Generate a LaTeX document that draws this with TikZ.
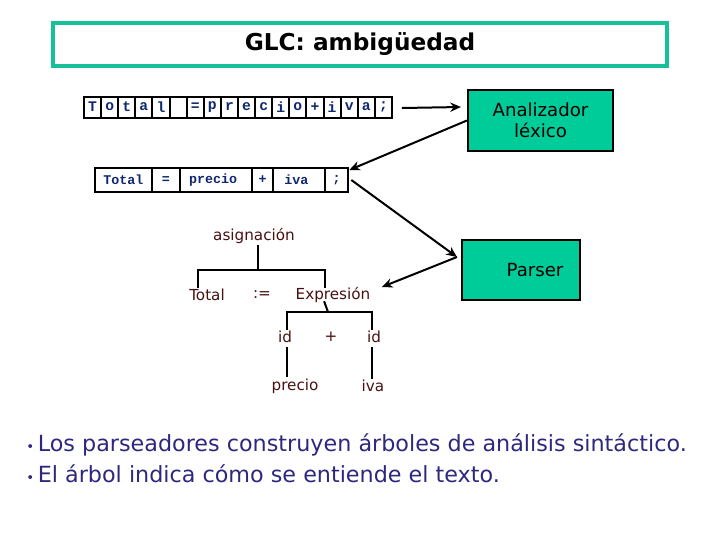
\documentclass[tikz,border=0pt]{standalone}
\usepackage{fontspec}
\setmainfont{DejaVu Sans}
\newfontfamily\monof{Liberation Mono}
\usetikzlibrary{arrows.meta,calc}
\definecolor{tealfill}{RGB}{0,204,153}
\definecolor{titleborder}{RGB}{22,192,152}
\definecolor{cellblue}{RGB}{16,40,110}
\definecolor{treered}{RGB}{72,16,16}
\definecolor{notenavy}{RGB}{45,40,125}
\tikzset{
  cellbox/.style={draw=black, line width=1.5pt, inner sep=0pt, minimum height=15.75pt,
    text=cellblue, font=\monof\bfseries\fontsize{11pt}{12pt}\selectfont},
  tokbox/.style={draw=black, line width=1.5pt, inner sep=0pt, minimum height=18pt,
    text=cellblue, font=\monof\bfseries\fontsize{10pt}{11pt}\selectfont},
  greenbox/.style={draw=black, line width=1.6pt, fill=tealfill, inner sep=0pt,
    font=\fontsize{13.6pt}{16pt}\selectfont, align=center},
  treelab/.style={inner sep=1pt, text=treered, font=\fontsize{11.4pt}{13pt}\selectfont},
  treeline/.style={line width=1.5pt, draw=black},
  arr/.style={line width=1.5pt, -{Stealth[length=8pt,width=7pt]}},
  note/.style={anchor=west, inner sep=0pt, text=notenavy, font=\fontsize{16.7pt}{20pt}\selectfont}
}
\begin{document}
\begin{tikzpicture}[x=0.75pt,y=-0.75pt]
\useasboundingbox (0,0) rectangle (720,540);

% title
\node[draw=titleborder, line width=2.4pt, fill=white, minimum width=460.5pt, minimum height=32.25pt, inner sep=0pt,
  font=\bfseries\fontsize{17.4pt}{20pt}\selectfont] (title) at (360,44.5) {GLC: ambigüedad};

% character row
\foreach \ch [count=\i] in {T,o,t,a,l,{},=,p,r,e,c,i,o,+,i,v,a,;} {
  \node[cellbox, minimum width=12.83pt] (c\i) at ({84+(\i-0.5)*17.11},107) {\ch};
}

% token row
\node[tokbox, minimum width=42.5pt] (t1) at (123.35,180) {Total};
\node[tokbox, minimum width=21.2pt] (t2) at (165.85,180) {=};
\node[tokbox, minimum width=53.8pt] (t3) at (215.85,180) {precio\hspace*{4pt}};
\node[tokbox, minimum width=16.2pt] (t4) at (262.5,180) {+};
\node[tokbox, minimum width=38.8pt] (t5) at (299.15,180) {iva\hspace*{4pt}};
\node[tokbox, minimum width=17.5pt] (t6) at (336.65,180) {;};

% boxes
\node[greenbox, minimum width=108.75pt, minimum height=45.75pt] (anal) at (540.5,120.5) {Analizador\\léxico};
\node[greenbox, minimum width=88.5pt, minimum height=45pt] (parser) at (521,270) {\hspace*{21pt}Parser};

% arrows
\draw[arr] ([shift={(9,1)}]c18.east) -- ([shift={(-6,0)}]anal.west |- c18.east);
\draw[arr] (anal.west) -- ([shift={(0,3)}]t6.north east);
\coordinate (pin) at ([shift={(-4,-13)}]parser.west);
\draw[arr] ([shift={(2,0)}]t6.east) -- (pin);

% tree
\node[treelab] (asig) at (254,236) {asignación};
\node[treelab] (total) at (207,295) {Total};
\node[treelab] (assign) at (262,295) {:=};
\node[treelab] (expr) at (333,295) {Expresión};
\node[treelab] (id1) at (285,337) {id};
\node[treelab] (plus) at (331,337) {+};
\node[treelab] (id2) at (374,337) {id};
\node[treelab] (precio) at (295,386) {precio};
\node[treelab] (iva) at (373,386) {iva};

\draw[arr] (pin) -- ([shift={(10,-8)}]expr.east);

\coordinate (b1) at (258,270);
\coordinate (b2) at (328,312);
\draw[treeline] (asig.south -| b1) -- (b1);
\draw[treeline] ([shift={(10,0)}]total.north west) |- (b1) -| ([shift={(31,2)}]expr.north west);
\draw[treeline] ([shift={(30,-3)}]expr.south west) -- (b2);
\draw[treeline] ([shift={(2,0)}]id1.north) |- (b2) -| ([shift={(-2,0)}]id2.north);
\draw[treeline] ([shift={(2,3)}]id1.south) -- ([shift={(2,0)}]id1.south |- precio.north);
\draw[treeline] ([shift={(-2,3)}]id2.south) -- ([shift={(-2,0)}]id2.south |- iva.north);

% notes
\node[note] (n1) at (26,445) {{\fontsize{10pt}{12pt}\selectfont•}\,Los parseadores construyen árboles de análisis sintáctico.};
\node[note] (n2) at (26,474) {{\fontsize{10pt}{12pt}\selectfont•}\,El árbol indica cómo se entiende el texto.};
\end{tikzpicture}
\end{document}
